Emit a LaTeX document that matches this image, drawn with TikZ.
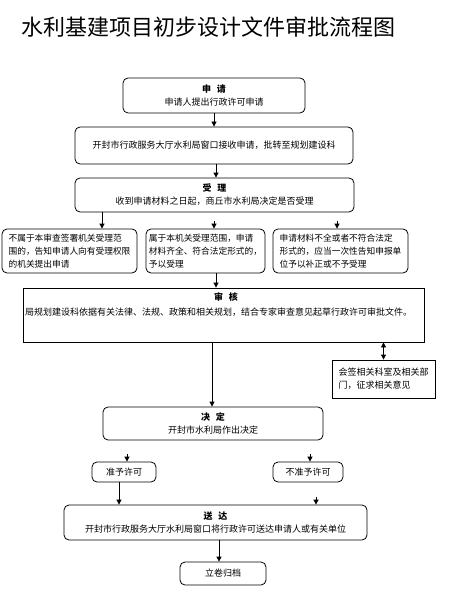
\documentclass[tikz,border=0pt]{standalone}
\usepackage{fontspec}
\setmainfont{Noto Sans CJK SC}
\usetikzlibrary{arrows.meta}
\begin{document}
\begin{tikzpicture}[x=1pt,y=-1pt,
  every node/.style={font=\fontsize{9}{13}\selectfont, inner sep=0pt},
  rbox/.style={draw, line width=0.8pt, rounded corners=5pt},
  sbox/.style={draw, line width=0.8pt},
  small/.style={font=\fontsize{8.7}{13}\selectfont},
  arr/.style={line width=0.8pt, -{Triangle[length=5pt,width=5pt]}},
  darr/.style={line width=0.8pt, {Triangle[length=5pt,width=5pt]}-{Triangle[length=5pt,width=5pt]}},
  hd/.style={font=\fontsize{9}{13}\selectfont\bfseries}
]
\useasboundingbox (0,0) rectangle (464,604);
% title
\node[font=\fontsize{22}{26}\selectfont, anchor=west] (title) at (21,27) {水利基建项目初步设计文件审批流程图};

% boxes
\node[rbox, minimum width=182, minimum height=35, align=center] (req) at (214,95.5)
  {{\bfseries 申\hspace{6pt}请}\\申请人提出行政许可申请};
\node[rbox, minimum width=278, minimum height=37] (recv) at (214,145.5)
  {开封市行政服务大厅水利局窗口接收申请，批转至规划建设科};
\node[rbox, minimum width=279, minimum height=34, align=center] (acc) at (214.5,195)
  {{\bfseries 受\hspace{6pt}理}\\收到申请材料之日起，商丘市水利局决定是否受理};

\node[rbox, small, minimum width=135, minimum height=44, align=left] (na) at (69.5,251)
  {不属于本审查签署机关受理范\\围的，告知申请人向有受理权限\\的机关提出申请};
\node[rbox, small, minimum width=119, minimum height=44, align=left] (ok) at (205.5,251)
  {属于本机关受理范围，申请\\材料齐全、符合法定形式的，\\予以受理};
\node[rbox, small, minimum width=135, minimum height=44, align=left] (inc) at (340.5,251)
  {申请材料不全或者不符合法定\\形式的，应当一次性告知申报单\\位予以补正或不予受理};

\node[sbox, minimum width=401, minimum height=54] (rev) at (223.5,315) {};
\node[hd] (revh) at (226,297) {审\hspace{6pt}核};
\node[anchor=west] (revt) at (25,312) {局规划建设科依据有关法律、法规、政策和相关规划，结合专家审查意见起草行政许可审批文件。};

\node[sbox, minimum width=103, minimum height=38, align=left] (sign) at (383.5,379)
  {会签相关科室及相关部\\门，征求相关意见};

\node[rbox, minimum width=220, minimum height=33, align=center] (dec) at (213,423.5)
  {{\bfseries 决\hspace{6pt}定}\\开封市水利局作出决定};

\node[rbox, minimum width=64, minimum height=20] (grant) at (124,472) {准予许可};
\node[rbox, minimum width=70, minimum height=20] (deny) at (308,472) {不准予许可};

\node[rbox, minimum width=303, minimum height=35, align=center] (del) at (215.5,522.5)
  {{\bfseries 送\hspace{6pt}达}\\开封市行政服务大厅水利局窗口将行政许可送达申请人或有关单位};

\node[rbox, minimum width=86, minimum height=23] (arch) at (223,573.5) {立卷归档};

% connectors
\draw[arr] (req.south) -- (recv.north);
\draw[arr] (recv.south -| 216,0) -- (acc.north -| 216,0);
\draw[arr] (acc.south -| 102,0) -- (na.north -| 102,0);
\coordinate (okt) at (214,221);
\draw[arr] (okt) -- (ok.north -| okt);
\coordinate (inct) at (337,221);
\draw[arr] (inct) -- (inc.north -| inct);
\draw[arr] (ok.south -| 216,0) -- (rev.north -| 216,0);
\draw[arr] (rev.south -| 212,0) -- (dec.north -| 212,0);
\draw[darr] (rev.south -| sign.north) -- (sign.north);
\coordinate (gt) at (127,454);
\draw[arr] (gt) -- (grant.north -| gt);
\coordinate (dt) at (310,454);
\draw[arr] (dt) -- (deny.north -| dt);
\draw[arr] (grant.south -| 119,0) -- (del.north -| 119,0);
\coordinate (dnt) at (316,497);
\draw[arr] (dnt) -- (del.north -| dnt);
\draw[arr] (del.south -| 219,0) -- (arch.north -| 219,0);
\end{tikzpicture}
\end{document}
